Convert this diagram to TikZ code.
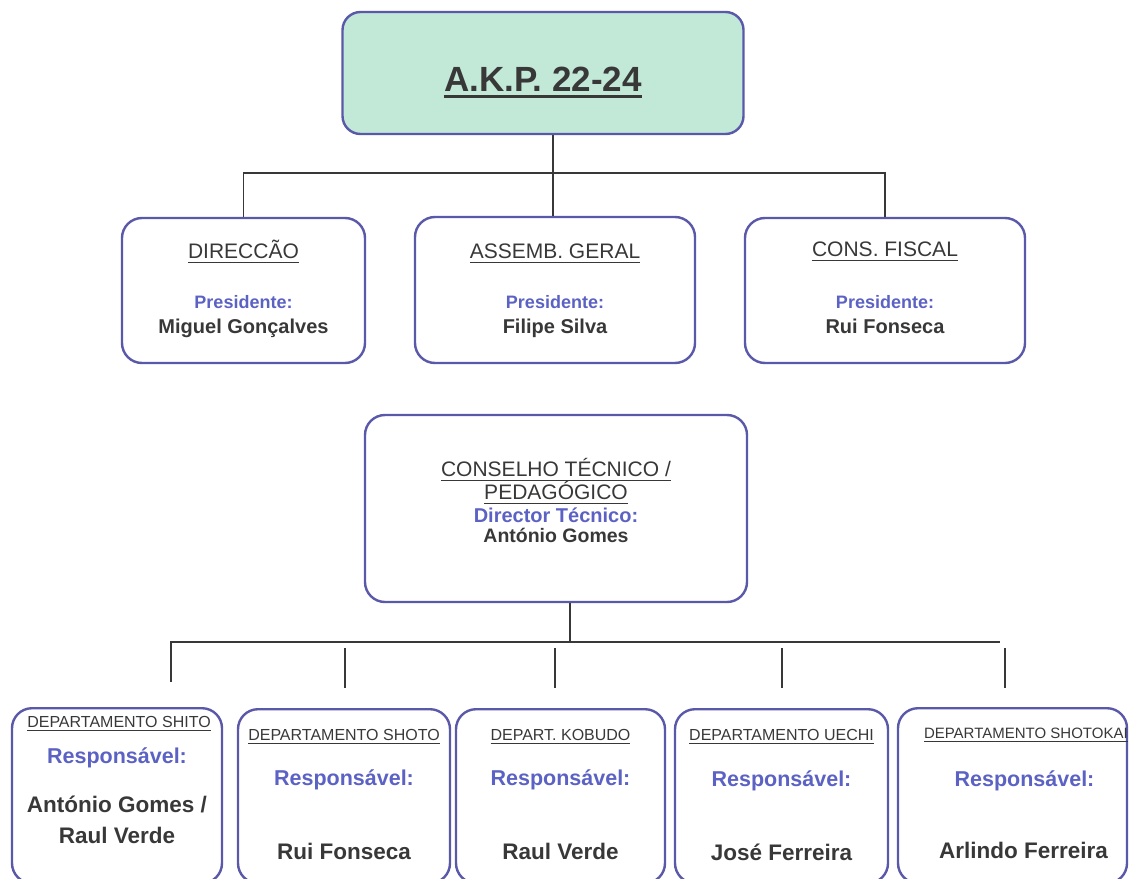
\documentclass[tikz,border=0pt]{standalone}
\usepackage{fontspec}
\setmainfont{Liberation Sans}
\usetikzlibrary{positioning}
\definecolor{frame}{HTML}{5A58A8}
\definecolor{role}{HTML}{5B62C4}
\definecolor{ink}{HTML}{383838}
\definecolor{mint}{HTML}{C2E8D8}
% underline with a chosen thickness and gap
\newcommand{\ulbar}[3]{\leavevmode\setbox0\hbox{#3}\dp0=0pt\vtop{\box0\kern#2\hrule height #1}}
\tikzset{
	box/.style={draw=frame, line width=2.4pt, rounded corners=20pt, inner sep=0pt},
	link/.style={draw=ink, line width=1.6pt},
	txt/.style={anchor=base, inner sep=0pt, text=ink},
	head/.style={txt, font=\fontsize{21}{24}\selectfont},
	pres/.style={txt, text=role, font=\fontsize{18}{22}\selectfont\bfseries},
	who/.style={txt, font=\fontsize{20}{24}\selectfont\bfseries},
	dhead/.style={txt, font=\fontsize{16}{18}\selectfont},
	resp/.style={txt, text=role, font=\fontsize{21.5}{25}\selectfont\bfseries},
	dwho/.style={txt, font=\fontsize{22.5}{26}\selectfont\bfseries}
}
\begin{document}
\begin{tikzpicture}[x=1pt, y=-1pt]
		\useasboundingbox (0,0) rectangle (1129,878);
		\clip (0,0) rectangle (1129,878);
		% top
		\node[box, fill=mint, rounded corners=18pt, minimum width=401pt, minimum height=122pt] (akp) at (543,73) {};
		\node[txt, font=\fontsize{35}{40}\selectfont\bfseries] (akp-t) at ([yshift=-81pt]akp.north) {\ulbar{2.6pt}{3.5pt}{A.K.P. 22-24}};
		% boards
		\node[box, minimum width=243pt, minimum height=145pt] (direccao) at (243.5,290.5) {};
		\node[box, minimum width=280pt, minimum height=146pt] (assemb) at (555,290) {};
		\node[box, minimum width=280pt, minimum height=145pt] (fiscal) at (885,290.5) {};
		\node[head] (direccao-h) at ([yshift=-42pt]direccao.north) {\ulbar{1.6pt}{3pt}{DIRECCÃO}};
		\node[pres] (direccao-p) at ([yshift=-92pt]direccao.north) {Presidente:};
		\node[who] (direccao-n) at ([yshift=-117pt]direccao.north) {Miguel Gonçalves};
		\node[head] (assemb-h) at ([yshift=-43pt]assemb.north) {\ulbar{1.6pt}{3pt}{ASSEMB. GERAL}};
		\node[pres] (assemb-p) at ([yshift=-93pt]assemb.north) {Presidente:};
		\node[who] (assemb-n) at ([yshift=-118pt]assemb.north) {Filipe Silva};
		\node[head] (fiscal-h) at ([yshift=-40pt]fiscal.north) {\ulbar{1.6pt}{3pt}{CONS. FISCAL}};
		\node[pres] (fiscal-p) at ([yshift=-92pt]fiscal.north) {Presidente:};
		\node[who] (fiscal-n) at ([yshift=-117pt]fiscal.north) {Rui Fonseca};
		\coordinate (bus-top) at (553,173);
		\draw[link] (akp.south -| bus-top) -- (bus-top |- assemb.north);
		\draw[link] (direccao.north) |- (bus-top) -| (fiscal.north);
		% technical council
		\node[box, minimum width=382pt, minimum height=187pt] (conselho) at (556,508.5) {};
		\node[head] (conselho-h) at ([yshift=-63pt]conselho.north) {\ulbar{1.4pt}{3pt}{CONSELHO TÉCNICO /}};
		\node[head] (conselho-h2) at ([yshift=-86pt]conselho.north) {\ulbar{1.4pt}{3pt}{PEDAGÓGICO}};
		\node[txt, text=role, font=\fontsize{20}{24}\selectfont\bfseries] (conselho-p) at ([yshift=-109pt]conselho.north) {Director Técnico:};
		\node[txt, font=\fontsize{19.5}{24}\selectfont\bfseries] (conselho-n) at ([yshift=-129pt]conselho.north) {António Gomes};
		% departments
		\node[box, anchor=north, minimum width=210pt, minimum height=175pt] (shito) at (117,707) {};
		\node[box, anchor=north, minimum width=212pt, minimum height=174pt] (shoto) at (344,708) {};
		\node[box, anchor=north, minimum width=209pt, minimum height=174pt] (kobudo) at (560.5,708) {};
		\node[box, anchor=north, minimum width=213pt, minimum height=174pt] (uechi) at (781.5,708) {};
		\node[box, anchor=north, minimum width=229pt, minimum height=175pt] (shotokai) at (1012.5,707) {};
		\node[dhead] (shito-h) at ([yshift=-20pt,xshift=2pt]shito.north) {\ulbar{1.3pt}{2.5pt}{DEPARTAMENTO SHITO}};
		\node[resp] (shito-r) at ([yshift=-56pt]shito.north) {Responsável:};
		\node[dwho] (shito-n) at ([yshift=-105pt]shito.north) {António Gomes /};
		\node[dwho] (shito-n2) at ([yshift=-136pt]shito.north) {Raul Verde};
		\node[dhead] (shoto-h) at ([yshift=-32pt]shoto.north) {\ulbar{1.3pt}{2.5pt}{DEPARTAMENTO SHOTO}};
		\node[resp] (shoto-r) at ([yshift=-77pt]shoto.north) {Responsável:};
		\node[dwho] (shoto-n) at ([yshift=-151pt]shoto.north) {Rui Fonseca};
		\node[dhead] (kobudo-h) at ([yshift=-32pt]kobudo.north) {\ulbar{1.3pt}{2.5pt}{DEPART. KOBUDO}};
		\node[resp] (kobudo-r) at ([yshift=-77pt]kobudo.north) {Responsável:};
		\node[dwho] (kobudo-n) at ([yshift=-151pt]kobudo.north) {Raul Verde};
		\node[dhead] (uechi-h) at ([yshift=-32pt]uechi.north) {\ulbar{1.3pt}{2.5pt}{DEPARTAMENTO UECHI}};
		\node[resp] (uechi-r) at ([yshift=-78pt]uechi.north) {Responsável:};
		\node[dwho] (uechi-n) at ([yshift=-152pt]uechi.north) {José Ferreira};
		\node[dhead, anchor=base west, font=\fontsize{15}{18}\selectfont] (shotokai-h) at ([yshift=-31pt]shotokai.north west) {\hspace*{27pt}\ulbar{1.3pt}{2.5pt}{DEPARTAMENTO SHOTOKAI}};
		\node[resp] (shotokai-r) at ([yshift=-79pt,xshift=12pt]shotokai.north) {Responsável:};
		\node[dwho] (shotokai-n) at ([yshift=-151pt,xshift=11pt]shotokai.north) {Arlindo Ferreira};
		\coordinate (bus-low) at (570,642);
		\coordinate (bus-end) at (1000,642);
		\coordinate (drop-shito) at (171,682);
		\coordinate (drop-shoto) at (345,688);
		\coordinate (drop-kobudo) at (555,688);
		\coordinate (drop-uechi) at (782,688);
		\coordinate (drop-shotokai) at (1005,688);
		\draw[link] (conselho.south -| bus-low) -- (bus-low);
		\draw[link] (drop-shito) |- (bus-end);
		\foreach \d in {shoto,kobudo,uechi,shotokai}
		{
			\draw[link] ([yshift=40pt]drop-\d) -- (drop-\d);
		}
\end{tikzpicture}
\end{document}
